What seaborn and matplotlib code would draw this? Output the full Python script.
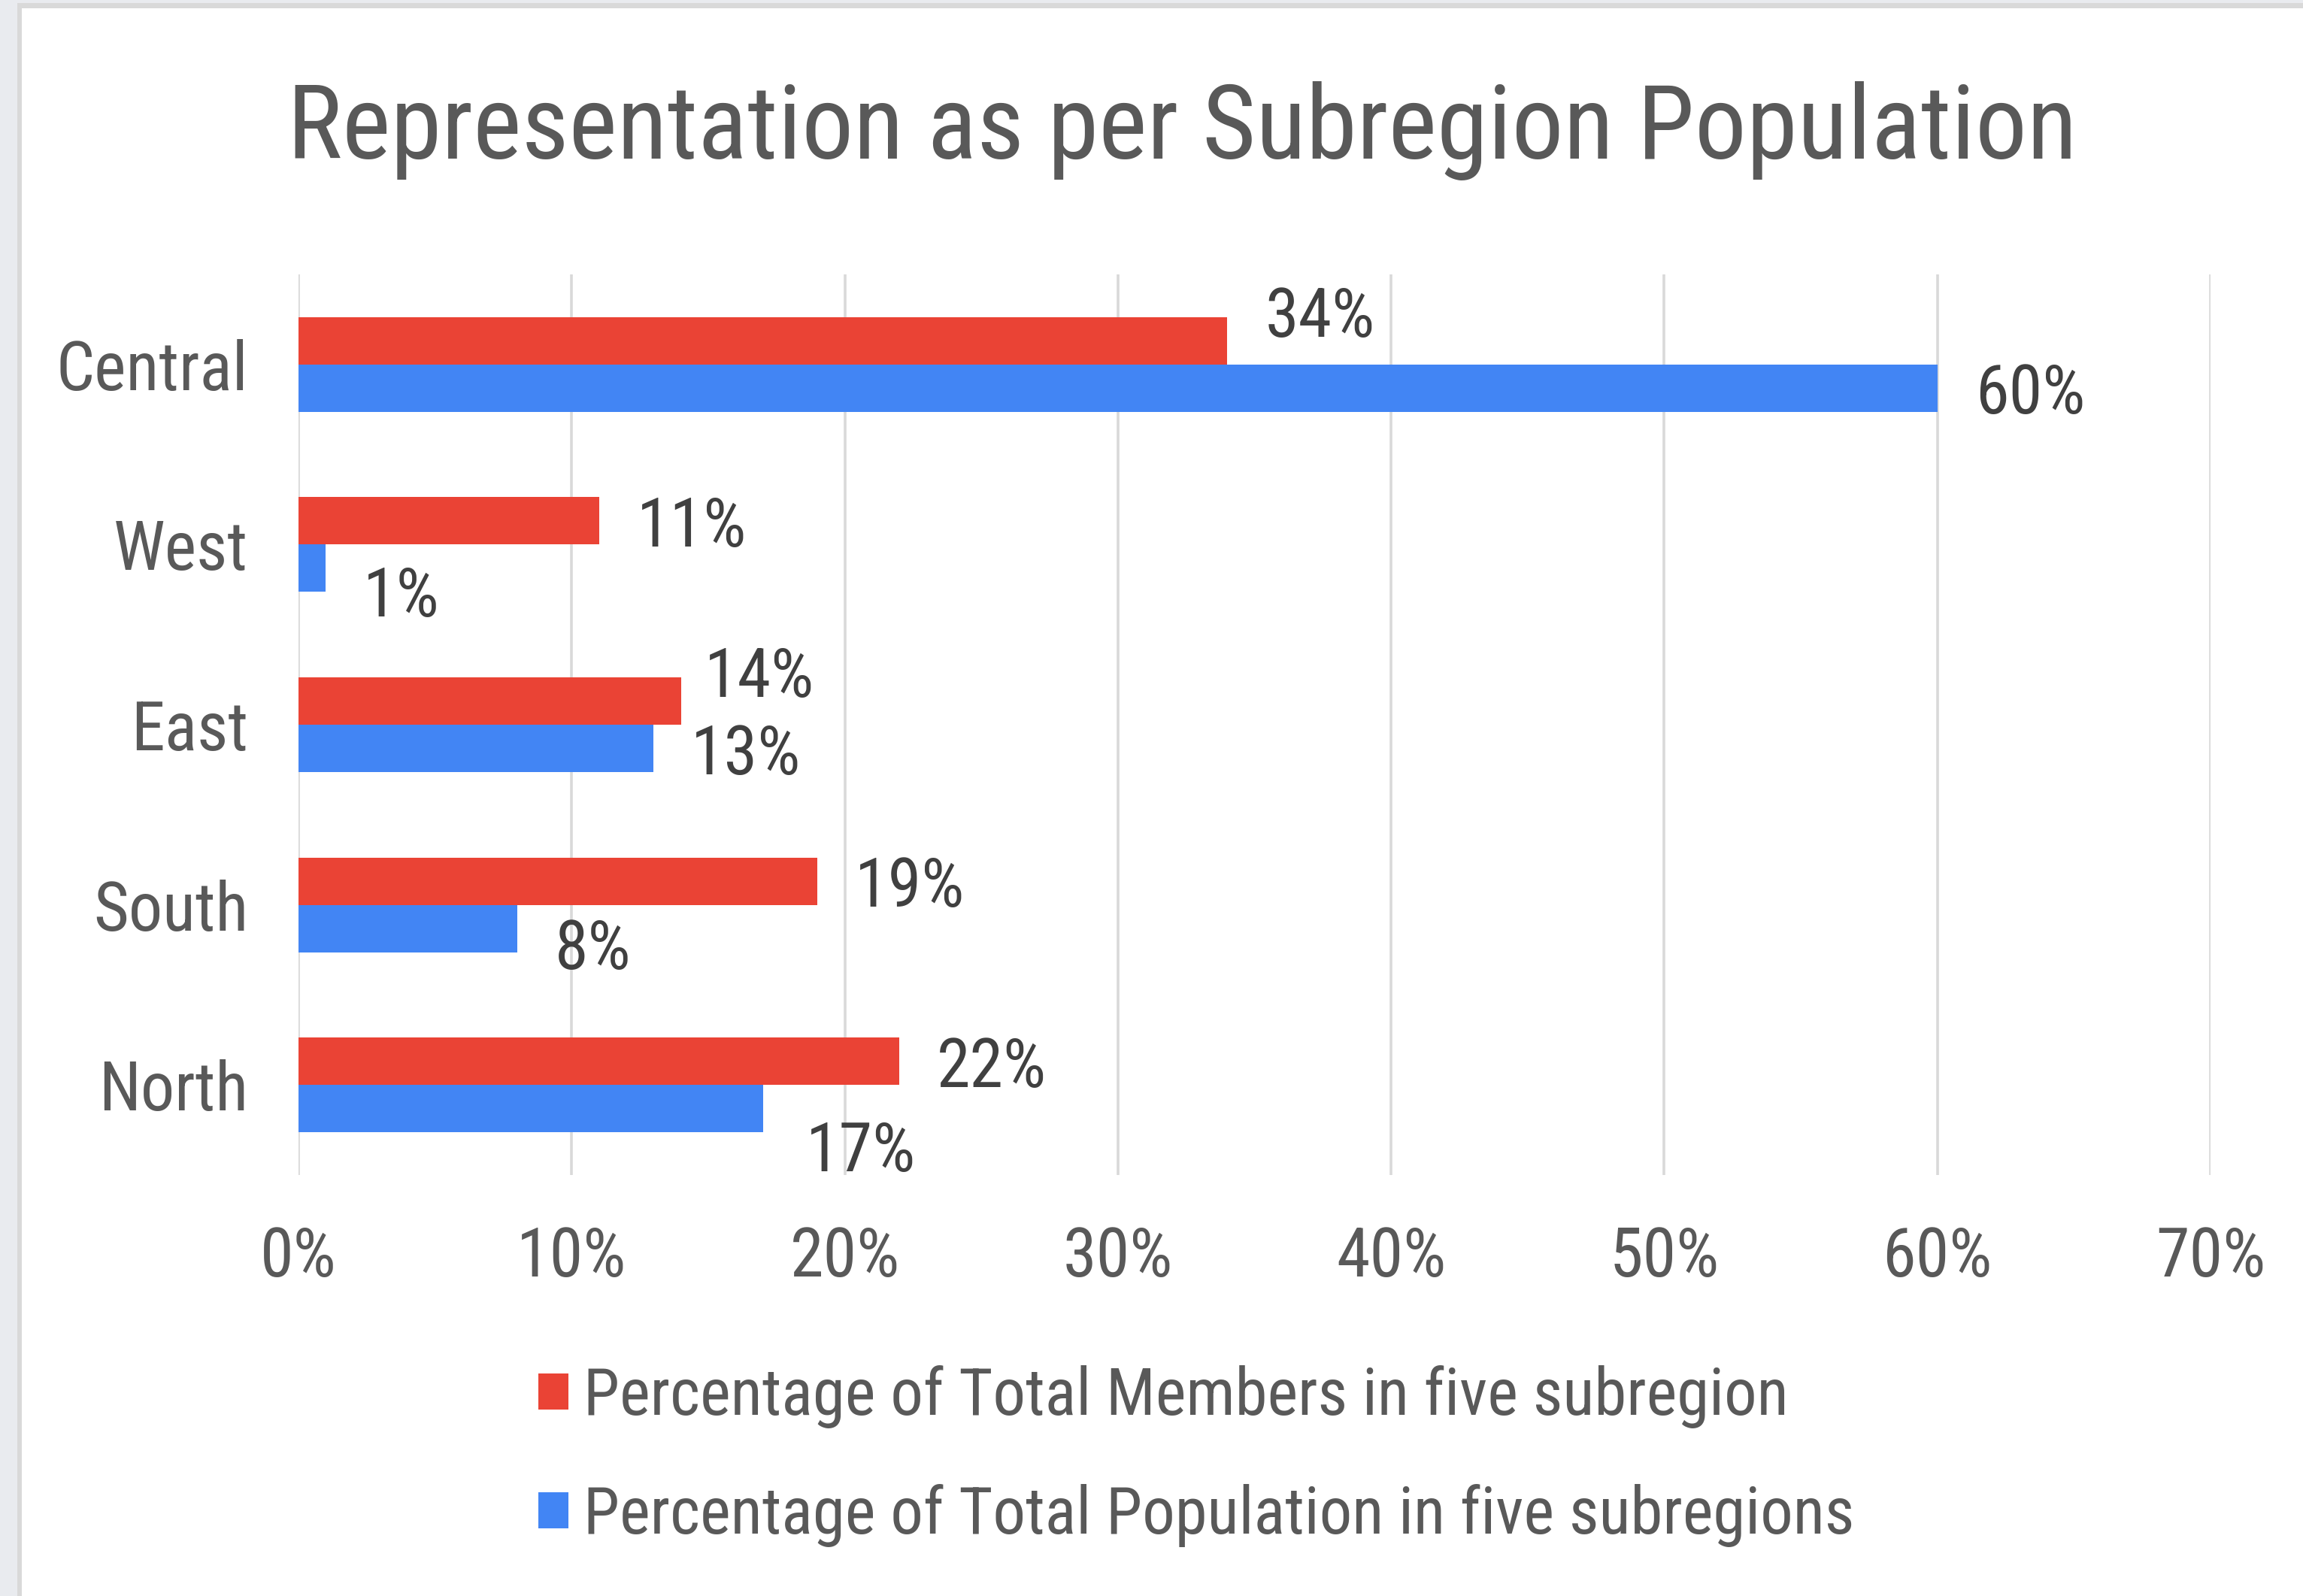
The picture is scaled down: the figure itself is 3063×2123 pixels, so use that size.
import matplotlib
matplotlib.use("Agg")
import matplotlib.pyplot as plt
import seaborn as sns
import pandas as pd
from matplotlib import font_manager
from matplotlib.font_manager import FontProperties
from matplotlib.patches import Rectangle

# chart values
regions = ["Central", "West", "East", "South", "North"]
members_pct = [34, 11, 14, 19, 22]
population_pct = [60, 1, 13, 8, 17]
series_names = ["Percentage of Total Members in five subregion",
                "Percentage of Total Population in five subregions"]
x_ticks = [0, 10, 20, 30, 40, 50, 60, 70]

# label nudges in pixels (dx right, dy down), like Excel's placement
label_dx = [[50, 50, 31, 50, 50], [50, 50, 50, 50, 57]]
label_dy = [[-39, 0, -39, 0, 0], [0, 30, 0, 20, 49]]

W, H = 3063, 2123
RED = "#EA4335"
BLUE = "#4285F4"
GREY_TXT = "#595959"
DARK_TXT = "#404040"

sns.set_theme(style="white")


def pick_narrow_font():
    # the screenshot uses a narrow sans; look for one that is installed
    prefs = ["Liberation Sans Narrow", "Arial Narrow", "Roboto Condensed",
             "Noto Sans", "Open Sans", "DejaVu Sans"]
    found = []
    for f in font_manager.fontManager.ttflist:
        if f.style != "normal" or f.weight not in (400, "normal", "regular"):
            continue
        narrow = ("Narrow" in f.name or "Condensed" in f.name
                  or f.stretch in ("condensed", "semi-condensed", "extra-condensed"))
        if not narrow:
            continue
        rank = len(prefs)
        for k, p in enumerate(prefs):
            if f.name.startswith(p):
                rank = k
                break
        # prefer plain condensed over extra/semi
        sub = 0 if f.stretch in ("condensed",) or "Narrow" in f.name else 1
        found.append((rank, sub, f.fname))
    if found:
        found.sort()
        return found[0][2], 1.0
    return None, 0.92


font_file, size_k = pick_narrow_font()
plt.rcParams["font.family"] = ["Liberation Sans", "DejaVu Sans"]


def fp(size):
    if font_file:
        return FontProperties(fname=font_file, size=size * size_k)
    return FontProperties(family=["Liberation Sans", "DejaVu Sans"], size=size * size_k)


df = pd.DataFrame({
    "region": regions * 2,
    "value": members_pct + population_pct,
    "series": [series_names[0]] * len(regions) + [series_names[1]] * len(regions),
})

fig = plt.figure(figsize=(W / 100, H / 100), dpi=100)
fig.patch.set_facecolor("#e9ebef")
# card with a thin grey border, as in the screenshot
fig.patches.append(Rectangle((23 / W, 0), 1, 1 - 4 / H, transform=fig.transFigure,
                             facecolor="#d9d9d9", edgecolor="none", zorder=-3))
fig.patches.append(Rectangle((29 / W, 0), 1, 1 - 11 / H, transform=fig.transFigure,
                             facecolor="white", edgecolor="none", zorder=-2))

ax = fig.add_axes([397 / W, 1 - 1563 / H, (2940 - 397) / W, (1563 - 365) / H])
ax.set_facecolor("none")

sns.barplot(data=df, x="value", y="region", hue="series", orient="h",
            palette=[RED, BLUE], saturation=1, width=0.526, linewidth=0,
            legend=False, ax=ax)

ax.set_xlim(0, 70)
ax.set_xticks(x_ticks)
ax.set_xticklabels([f"{t}%" for t in x_ticks])
ax.set_xlabel("")
ax.set_ylabel("")
ax.set_axisbelow(True)
ax.grid(axis="x", color="#d9d9d9", linewidth=2.6)
ax.grid(axis="y", visible=False)
for s in ax.spines.values():
    s.set_visible(False)
ax.tick_params(axis="x", length=0, pad=48, labelcolor=GREY_TXT)
ax.tick_params(axis="y", length=0, pad=48, labelcolor=GREY_TXT)
for lab in ax.get_xticklabels() + ax.get_yticklabels():
    lab.set_fontproperties(fp(65))

# data labels
for i, cont in enumerate(ax.containers):
    for j, bar in enumerate(cont):
        v = bar.get_width()
        yc = bar.get_y() + bar.get_height() / 2
        ax.annotate(f"{v:.0f}%", xy=(v, yc), xytext=(label_dx[i][j], -label_dy[i][j]),
                    textcoords="offset pixels", ha="left", va="center_baseline",
                    fontproperties=fp(65), color=DARK_TXT, annotation_clip=False)

fig.text(1572 / W, 1 - 211 / H, "Representation as per Subregion Population",
         ha="center", va="baseline", fontproperties=fp(99), color=GREY_TXT)

leg_fs = 62.5 * size_k
px = leg_fs * 100 / 72
fig.legend(ax.containers, series_names, loc="upper left",
           bbox_to_anchor=(716 / W, 1 - 1816 / H), frameon=False, prop=fp(62.5),
           handlelength=40 / px, handleheight=40 / px, handletextpad=20 / px,
           labelspacing=74 / px, borderpad=0, borderaxespad=0,
           labelcolor=GREY_TXT)

fig.savefig("out.png", dpi=100, facecolor=fig.get_facecolor())
